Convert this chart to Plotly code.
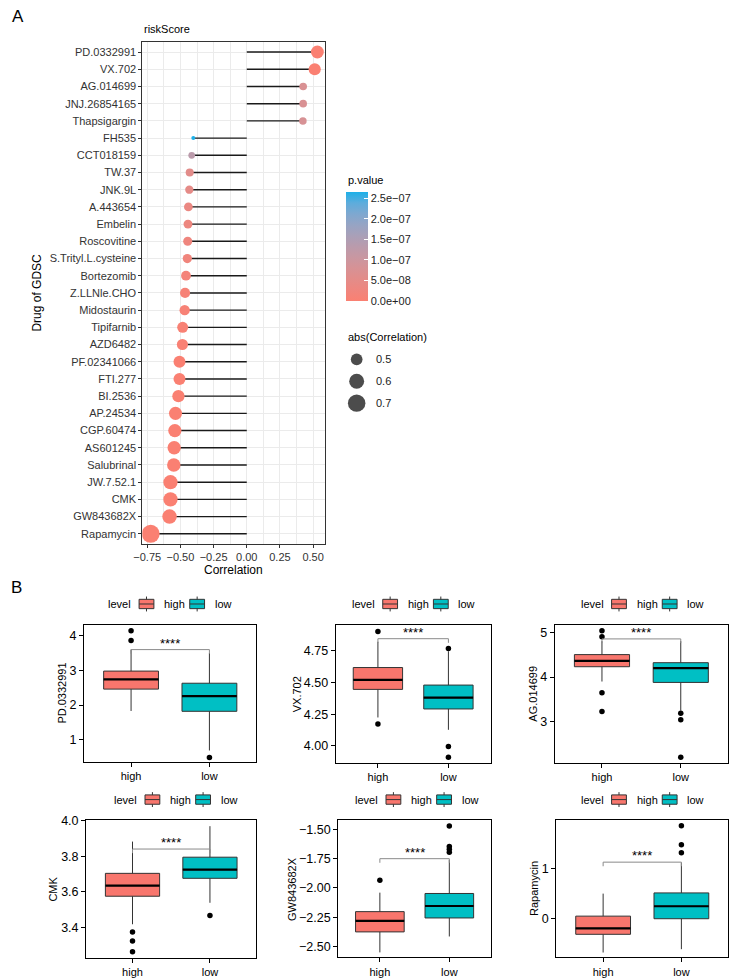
import numpy as np
import plotly.graph_objects as go

W, H = 731, 978
def fx(p): return p / W
def fy(p): return 1 - p / H

# ---------------- Panel A data ----------------
drugs = ["PD.0332991", "VX.702", "AG.014699", "JNJ.26854165", "Thapsigargin", "FH535",
         "CCT018159", "TW.37", "JNK.9L", "A.443654", "Embelin", "Roscovitine",
         "S.Trityl.L.cysteine", "Bortezomib", "Z.LLNle.CHO", "Midostaurin", "Tipifarnib",
         "AZD6482", "PF.02341066", "FTI.277", "BI.2536", "AP.24534", "CGP.60474",
         "AS601245", "Salubrinal", "JW.7.52.1", "CMK", "GW843682X", "Rapamycin"]
correlation = [0.532, 0.512, 0.425, 0.425, 0.423, -0.403, -0.415, -0.430, -0.433, -0.440,
               -0.443, -0.445, -0.448, -0.458, -0.465, -0.468, -0.483, -0.485, -0.507,
               -0.507, -0.515, -0.537, -0.542, -0.547, -0.550, -0.575, -0.575, -0.582, -0.724]
p_value = [2e-10, 5e-10, 7.5e-8, 7.5e-8, 8e-8, 2.65e-7, 1.3e-7, 5.5e-8, 4.8e-8, 3.5e-8,
           3e-8, 2.7e-8, 2.3e-8, 1.5e-8, 1e-8, 8e-9, 4e-9, 3.5e-9, 1e-9,
           1e-9, 7e-10, 2e-10, 1.5e-10, 1.2e-10, 1e-10, 2e-11, 2e-11, 1e-11, 1e-20]
corr_ticks = [-0.75, -0.50, -0.25, 0.00, 0.25, 0.50]
corr_ticktext = ["\u22120.75", "\u22120.50", "\u22120.25", "0.00", "0.25", "0.50"]
p_ticks = [0, 5e-8, 1e-7, 1.5e-7, 2e-7, 2.5e-7]
p_ticktext = ["0.0e+00", "5.0e\u221208", "1.0e\u221207", "1.5e\u221207", "2.0e\u221207", "2.5e\u221207"]
P_MAX = 2.65e-7
size_legend_vals = [0.5, 0.6, 0.7]

# ---------------- Panel B data ----------------
box_drugs = ["PD.0332991", "VX.702", "AG.014699", "CMK", "GW843682X", "Rapamycin"]
groups = ["high", "low"]
q1_high = [2.46, 4.445, 4.23, 3.575, -2.375, -0.312]
med_high = [2.74, 4.52, 4.36, 3.635, -2.281, -0.193]
q3_high = [2.98, 4.617, 4.50, 3.704, -2.202, 0.052]
lo_high = [1.83, 4.224, 3.90, 3.417, -2.55, -0.676]
hi_high = [3.60, 4.82, 4.80, 3.883, -2.04, 0.503]
out_high = [[4.14, 3.86], [4.90, 4.172], [5.03, 4.90, 3.65, 3.23], [3.374, 3.322, 3.262], [-1.934], []]
q1_low = [1.82, 4.291, 3.88, 3.676, -2.256, 0.0]
med_low = [2.26, 4.38, 4.20, 3.725, -2.154, 0.25]
q3_low = [2.63, 4.479, 4.32, 3.795, -2.047, 0.517]
lo_low = [0.69, 4.127, 3.25, 3.538, -2.414, -0.61]
hi_low = [3.50, 4.745, 4.80, 3.97, -1.76, 1.12]
out_low = [[0.49], [4.766, 3.995, 3.912], [3.19, 3.05, 2.21], [3.466], [-1.472, -1.647, -1.67, -1.695], [1.86, 1.48, 1.32]]
bracket_y = [3.60, 4.844, 4.85, 3.841, -1.75, 1.133]
sig_label = ["****"] * 6
y_ticks = [[1, 2, 3, 4], [4.00, 4.25, 4.50, 4.75], [3, 4, 5], [3.4, 3.6, 3.8, 4.0],
           [-2.50, -2.25, -2.00, -1.75, -1.50], [0, 1]]
y_ticktext = [["1", "2", "3", "4"], ["4.00", "4.25", "4.50", "4.75"], ["3", "4", "5"],
              ["3.4", "3.6", "3.8", "4.0"],
              ["\u22122.50", "\u22122.25", "\u22122.00", "\u22121.75", "\u22121.50"], ["0", "1"]]
y_ranges = [[0.351, 4.314], [3.867, 4.953], [2.093, 5.164], [3.226, 4.004], [-2.593, -1.421], [-0.775, 1.974]]

# ---------------- layout geometry (pixels) ----------------
panelA = dict(x0=135, x1=320, y0=36, y1=542)
CB_X0, CB_W, CB_TOP, CB_LEN = 341, 22, 187.7, 109
panelsB = [(76, 250.5, 623.3, 761.7), (330.7, 487.7, 623.3, 762.3), (552.5, 728, 623.3, 762),
           (78, 250.5, 820, 959), (333.3, 488, 820, 958.3), (554, 728.3, 820, 958.3)]
ytitle_x = [52.7, 291, 530.5, 45, 286.7, 531.7]
legend_pos = [(98.3, 602.3), (345, 602.3), (576.7, 602.3), (104.3, 799.3), (348.3, 799.3), (576.7, 799.3)]
COL_HIGH, COL_LOW = "#F8766D", "#00BFC4"
FONT = "Liberation Sans, Arial, sans-serif"

# ---------------- colour scale (Lab interpolation like ggplot) ----------------
def hex2rgb(h): return [int(h[i:i + 2], 16) / 255 for i in (1, 3, 5)]
def to_lin(c): return c / 12.92 if c <= 0.04045 else ((c + 0.055) / 1.055) ** 2.4
def to_srgb(c):
    c = min(max(c, 0), 1)
    return 12.92 * c if c <= 0.0031308 else 1.055 * c ** (1 / 2.4) - 0.055
M = np.array([[0.4124, 0.3576, 0.1805], [0.2126, 0.7152, 0.0722], [0.0193, 0.1192, 0.9505]])
Minv = np.linalg.inv(M)
WHITE = M @ np.ones(3)
def ff(t): return t ** (1 / 3) if t > 0.008856 else 7.787 * t + 16 / 116
def finv(t): return t ** 3 if t > 0.206893 else (t - 16 / 116) / 7.787
def rgb2lab(h):
    xyz = M @ np.array([to_lin(c) for c in hex2rgb(h)]) / WHITE
    a, b, c = [ff(v) for v in xyz]
    return np.array([116 * b - 16, 500 * (a - b), 200 * (b - c)])
def lab2rgb(lab):
    L, a, b = lab
    fy_ = (L + 16) / 116
    xyz = np.array([finv(fy_ + a / 500), finv(fy_), finv(fy_ - b / 200)]) * WHITE
    lin = Minv @ xyz
    return "rgb(%d,%d,%d)" % tuple(round(255 * to_srgb(c)) for c in lin)
lo_lab, hi_lab = rgb2lab("#FA8072"), rgb2lab("#1DB0E8")
colorscale = [[t, lab2rgb(lo_lab + (hi_lab - lo_lab) * t)] for t in np.linspace(0, 1, 11)]

abs_c = np.abs(np.array(correlation))
cmin_abs, cmax_abs = abs_c.min(), abs_c.max()
def dot_size(v):
    v = np.asarray(v, dtype=float)
    return 4.0 + 14.0 * np.sqrt(np.clip((v - cmin_abs) / (cmax_abs - cmin_abs), 0, 1))

fig = go.Figure()

# ---------------- Panel A traces ----------------
seg_x, seg_y = [], []
for d, c in zip(drugs, correlation):
    seg_x += [0, c, None]
    seg_y += [d, d, None]
fig.add_trace(go.Scatter(x=seg_x, y=seg_y, mode="lines", line=dict(color="#1a1a1a", width=1.4),
                         hoverinfo="skip", showlegend=False, xaxis="x", yaxis="y"))
fig.add_trace(go.Scatter(
    x=correlation, y=drugs, mode="markers", showlegend=False, xaxis="x", yaxis="y",
    marker=dict(size=dot_size(abs_c), color=p_value, colorscale=colorscale, cmin=0, cmax=P_MAX,
                line=dict(width=0), opacity=1,
                colorbar=dict(x=fx(CB_X0), xanchor="left", y=fy(CB_TOP + CB_LEN / 2), yanchor="middle",
                              len=CB_LEN, lenmode="pixels", thickness=CB_W, thicknessmode="pixels",
                              xpad=0, ypad=0, outlinewidth=0, tickvals=p_ticks, ticktext=p_ticktext,
                              ticks="inside", ticklen=4, tickcolor="white", tickwidth=1,
                              tickfont=dict(size=11, color="#222", family=FONT)))))

# size legend
fig.add_trace(go.Scatter(x=[0] * len(size_legend_vals), y=size_legend_vals, mode="markers",
                         marker=dict(size=dot_size(size_legend_vals), color="black", line=dict(width=0)),
                         showlegend=False, hoverinfo="skip", xaxis="x8", yaxis="y8"))

layout = dict(width=W, height=H, margin=dict(l=0, r=0, t=0, b=0), plot_bgcolor="white",
              paper_bgcolor="white", font=dict(family=FONT, color="black"), showlegend=False)
layout["xaxis"] = dict(domain=[fx(panelA["x0"]), fx(panelA["x1"])], range=[-0.787, 0.59],
                       tickvals=corr_ticks, ticktext=corr_ticktext, showgrid=True, gridcolor="#EBEBEB",
                       gridwidth=1, zeroline=False, showline=True, mirror=True, linecolor="#333333",
                       linewidth=1, ticks="outside", ticklen=3, tickcolor="#333333",
                       tickfont=dict(size=11, color="#333333"), anchor="y",
                       minor=dict(tickvals=[-0.625, -0.375, -0.125, 0.125, 0.375], showgrid=True,
                                  gridcolor="#EBEBEB", gridwidth=0.6, ticks=""))
layout["yaxis"] = dict(domain=[fy(panelA["y1"]), fy(panelA["y0"])], type="category",
                       categoryorder="array", categoryarray=drugs, range=[len(drugs) - 0.4, -0.6],
                       showgrid=True, gridcolor="#EBEBEB", gridwidth=1, zeroline=False, showline=True,
                       mirror=True, linecolor="#333333", linewidth=1, ticks="outside", ticklen=3,
                       tickcolor="#333333", tickfont=dict(size=11, color="#333333"), anchor="x")
layout["xaxis8"] = dict(domain=[fx(340), fx(364)], range=[-1, 1], visible=False, anchor="y8")
layout["yaxis8"] = dict(domain=[fy(411), fy(345)], range=[0.75, 0.45], visible=False, anchor="x8")

annotations = []
shapes = []
def ann(text, x, y, size=11, xanchor="center", yanchor="middle", angle=0, **kw):
    annotations.append(dict(text=text, x=fx(x), y=fy(y), xref="paper", yref="paper", showarrow=False,
                            xanchor=xanchor, yanchor=yanchor, textangle=angle,
                            font=dict(size=size, color=kw.pop("color", "black"), family=FONT), **kw))

ann("A", 9, 11, size=17)
ann("B", 8, 586, size=17)
ann("riskScore", 135, 22.7, size=11, xanchor="left")
ann("Drug of GDSC", 28, 289, size=12, angle=-90)
ann("Correlation", 227, 568, size=12)
ann("p.value", 341, 175, size=11, xanchor="left")
ann("abs(Correlation)", 341, 333, size=11, xanchor="left")
for v in size_legend_vals:
    annotations.append(dict(text=str(v), x=fx(370), y=v, xref="paper", yref="y8", showarrow=False,
                            xanchor="left", yanchor="middle", font=dict(size=11, color="#222", family=FONT)))
# white tick marks on the left edge of the colour bar (ggplot draws both sides)
for v in p_ticks:
    ty = CB_TOP + CB_LEN * (1 - v / P_MAX)
    shapes.append(dict(type="line", xref="paper", yref="paper", x0=fx(CB_X0), x1=fx(CB_X0 + 4),
                       y0=fy(ty), y1=fy(ty), line=dict(color="white", width=1)))

# ---------------- Panel B traces ----------------
for i in range(6):
    k = i + 2
    xa, ya = "x%d" % k, "y%d" % k
    x0, x1, y0, y1 = panelsB[i]
    layout["xaxis%d" % k] = dict(domain=[fx(x0), fx(x1)], range=[0.4, 2.6], tickvals=[1, 2],
                                 ticktext=groups, showgrid=False, zeroline=False, showline=True,
                                 mirror=True, linecolor="black", linewidth=1, ticks="outside",
                                 ticklen=4, tickcolor="black", tickfont=dict(size=11, color="black"),
                                 anchor=ya)
    layout["yaxis%d" % k] = dict(domain=[fy(y1), fy(y0)], range=y_ranges[i], tickvals=y_ticks[i],
                                 ticktext=y_ticktext[i], showgrid=False, zeroline=False, showline=True,
                                 mirror=True, linecolor="black", linewidth=1, ticks="outside",
                                 ticklen=4, tickcolor="black", tickfont=dict(size=12.5, color="black"),
                                 anchor=xa)
    stats = [(1, q1_high[i], med_high[i], q3_high[i], lo_high[i], hi_high[i], out_high[i], COL_HIGH),
             (2, q1_low[i], med_low[i], q3_low[i], lo_low[i], hi_low[i], out_low[i], COL_LOW)]
    for xpos, q1, md, q3, lo, hi, outs, col in stats:
        fig.add_trace(go.Box(x=[xpos], q1=[q1], median=[md], q3=[q3], lowerfence=[lo], upperfence=[hi],
                             width=0.7, whiskerwidth=0, fillcolor=col, line=dict(color="#333333", width=1),
                             boxpoints=False, hoverinfo="skip", showlegend=False, xaxis=xa, yaxis=ya))
        fig.add_trace(go.Scatter(x=[xpos - 0.35, xpos + 0.35], y=[md, md], mode="lines",
                                 line=dict(color="black", width=2.2), hoverinfo="skip",
                                 showlegend=False, xaxis=xa, yaxis=ya))
        if outs:
            fig.add_trace(go.Scatter(x=[xpos] * len(outs), y=outs, mode="markers",
                                     marker=dict(color="black", size=5.5), hoverinfo="skip",
                                     showlegend=False, xaxis=xa, yaxis=ya))
    tip = 0.03 * (y_ranges[i][1] - y_ranges[i][0])
    by = bracket_y[i]
    fig.add_trace(go.Scatter(x=[1, 1, 2, 2], y=[by - tip, by, by, by - tip], mode="lines",
                             line=dict(color="#8a8a8a", width=1), hoverinfo="skip",
                             showlegend=False, xaxis=xa, yaxis=ya))
    annotations.append(dict(text=sig_label[i], x=1.5, y=by, xref=xa, yref=ya, showarrow=False,
                            xanchor="center", yanchor="bottom", yshift=-3,
                            font=dict(size=13, color="black", family=FONT)))
    ann(box_drugs[i], ytitle_x[i], (y0 + y1) / 2, size=11, angle=-90)
    # legend "level  [high]  [low]"
    L, c = legend_pos[i]
    ann("level", L, c, size=11, xanchor="left")
    for off, col, lab in [(33.4, COL_HIGH, "high"), (84.7, COL_LOW, "low")]:
        kx0, kx1 = L + off, L + off + 15
        xm = (kx0 + kx1) / 2
        shapes.append(dict(type="line", xref="paper", yref="paper", x0=fx(xm), x1=fx(xm),
                           y0=fy(c - 7.5), y1=fy(c + 7.5), line=dict(color="#333333", width=1)))
        shapes.append(dict(type="rect", xref="paper", yref="paper", x0=fx(kx0), x1=fx(kx1),
                           y0=fy(c - 4.7), y1=fy(c + 4.7), fillcolor=col,
                           line=dict(color="#333333", width=1)))
        shapes.append(dict(type="line", xref="paper", yref="paper", x0=fx(kx0), x1=fx(kx1),
                           y0=fy(c), y1=fy(c), line=dict(color="#333333", width=1)))
        ann(lab, kx1 + 8.3, c, size=11, xanchor="left")

layout["annotations"] = annotations
layout["shapes"] = shapes
fig.update_layout(**layout)
fig.write_html("out.html")
